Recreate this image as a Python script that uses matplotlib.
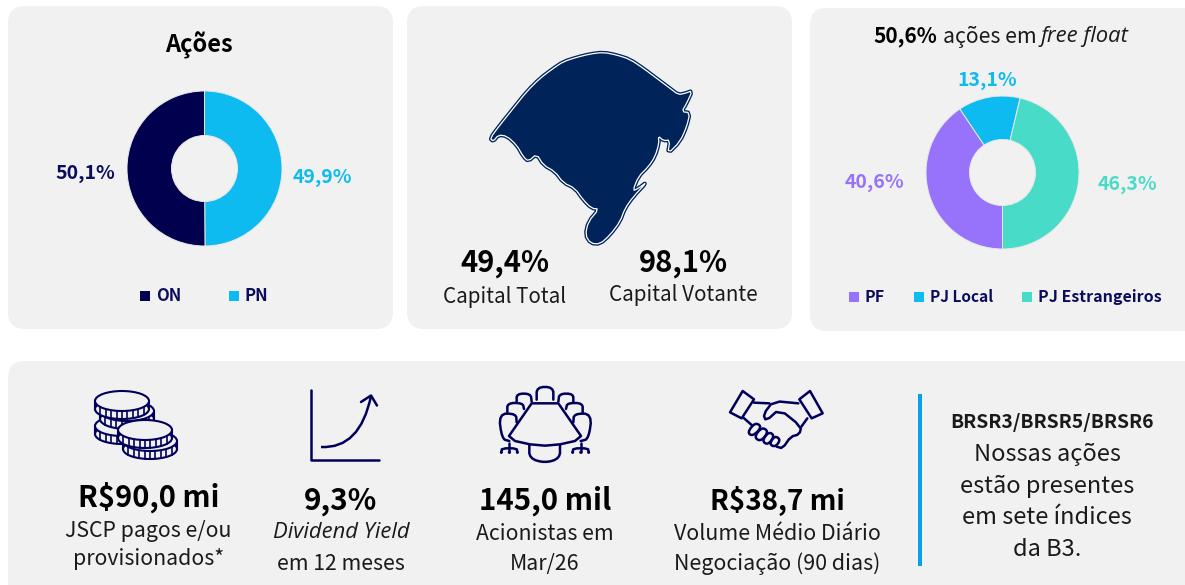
import matplotlib
matplotlib.use("Agg")
import matplotlib.pyplot as plt
from matplotlib.patches import FancyBboxPatch, Rectangle, Ellipse, Polygon, PathPatch, Circle
from matplotlib.path import Path

W, H = 1185, 585

# Data
acoes_labels = ["PN", "ON"]
acoes_values = [49.9, 50.1]
free_float_labels = ["PF", "PJ Local", "PJ Estrangeiros"]
free_float_values = [40.6, 13.1, 46.3]
capital_total = 49.4
capital_votante = 98.1
free_float_pct = 50.6
kpi_values = ["R$90,0 mi", "9,3%", "145,0 mil", "R$38,7 mi"]

# Colours
PANEL = "#f1f1f1"
NAVY = "#00004f"
NAVY_TXT = "#0c0c5c"
CYAN = "#0dbbf0"
PURPLE = "#9773fb"
TEAL = "#48dbc8"
MAP = "#00235a"
LINE = "#00005a"
DARK = "#1a1a1a"

SANS = ["Noto Sans CJK SC", "DejaVu Sans"]
plt.rcParams["font.family"] = SANS


def pct(v):
    return f"{v:.1f}%".replace(".", ",")


fig = plt.figure(figsize=(W / 100, H / 100), dpi=100, facecolor="white")
ax = fig.add_axes([0, 0, 1, 1])
ax.set_xlim(0, W)
ax.set_ylim(H, 0)
ax.axis("off")


def panel(x0, y0, x1, y1, r=17):
    ax.add_patch(FancyBboxPatch((x0 + r, y0 + r), x1 - x0 - 2 * r, y1 - y0 - 2 * r,
                                boxstyle=f"round,pad={r},rounding_size={r}",
                                fc=PANEL, ec="none", zorder=0))


def txt(x, y, s, size, color="black", weight="normal", ha="center", **kw):
    return ax.text(x, y, s, fontsize=size, color=color, fontweight=weight, ha=ha,
                   va="center", zorder=5, **kw)


def donut(cx, cy, r, inner, values, colors, start):
    a = fig.add_axes([(cx - r) / W, 1 - (cy + r) / H, 2 * r / W, 2 * r / H])
    a.pie(values, colors=colors, startangle=start, counterclock=False, radius=1,
          wedgeprops=dict(width=1 - inner / r, edgecolor="#e8e8e8", linewidth=0.7))
    a.set_xlim(-1, 1)
    a.set_ylim(-1, 1)
    return a


def legend_item(x, y, color, label, tx, size=11.5):
    ax.add_patch(Rectangle((x, y - 5), 10, 10, fc=color, ec="none", zorder=4))
    txt(tx, y, label, size, NAVY_TXT, "bold", ha="left")


# corner cutting, rounds off the hand traced outlines
def smooth(pts, closed=False, rounds=2):
    for _ in range(rounds):
        out = [pts[0]] if not closed else []
        n = len(pts)
        for i in range(n if closed else n - 1):
            p, q = pts[i], pts[(i + 1) % n]
            out.append((0.75 * p[0] + 0.25 * q[0], 0.75 * p[1] + 0.25 * q[1]))
            out.append((0.25 * p[0] + 0.75 * q[0], 0.25 * p[1] + 0.75 * q[1]))
        if not closed:
            out.append(pts[-1])
        pts = out
    return pts


panel(8, 6, 393, 329)
panel(407, 6, 792, 329)
panel(810, 8, 1210, 331)
panel(8, 361, 1210, 610)

# Acoes panel
txt(198.5, 45.5, "Ações", 17, "black", "bold")
donut(204.5, 168.5, 77.5, 33, acoes_values, [CYAN, NAVY], 90)
txt(85.5, 173.5, pct(acoes_values[1]), 14, NAVY_TXT, "bold")
txt(322.5, 177.5, pct(acoes_values[0]), 14, CYAN, "bold")
legend_item(140, 296, NAVY, acoes_labels[1], 156, 12)
legend_item(229, 296, CYAN, acoes_labels[0], 245, 12)

# Map of the state (zoomed coordinates)
map_outline = [(270, 415), (300, 375), (340, 325), (380, 275), (420, 235), (460, 205), (490, 185),
               (530, 172), (570, 162), (610, 157), (650, 165), (690, 178), (730, 205), (770, 235),
               (810, 265), (835, 284), (855, 280), (877, 272), (860, 310), (845, 335), (870, 338),
               (860, 380), (840, 425), (803, 462), (810, 420), (790, 422), (775, 408), (777, 430),
               (765, 470), (745, 500), (715, 530), (698, 573), (715, 565), (741, 546), (700, 590),
               (675, 625), (660, 665), (630, 705), (600, 732), (572, 730), (556, 705), (565, 665),
               (597, 627), (575, 625), (550, 600), (525, 565), (490, 548), (465, 515), (430, 495),
               (410, 462), (385, 484), (370, 470), (350, 435), (320, 408), (295, 405), (280, 424)]
map_px = smooth([(400 + x / 3, y / 3) for x, y in map_outline], closed=True, rounds=1)
ax.add_patch(Polygon(map_px, closed=True, fc=MAP, ec=MAP, lw=2.8, joinstyle="round", zorder=2))
ax.add_patch(Polygon(map_px, closed=True, fc="none", ec="white", lw=0.9, joinstyle="round", zorder=3))

txt(505, 263, pct(capital_total), 21, "black", "bold")
txt(683, 263, pct(capital_votante), 21, "black", "bold")
txt(505, 296.5, "Capital Total", 14.8, DARK)
txt(683, 295.5, "Capital Votante", 14.8, DARK)

# Free float panel
txt(873, 36.5, pct(free_float_pct), 15, "black", "bold", ha="left")
txt(943, 36.5, "ações em", 15.3, DARK, ha="left")
txt(1041, 36.5, "free float", 15.8, DARK, ha="left", style="italic", family="Open Sans")
donut(1002.5, 172.5, 76.5, 33, free_float_values, [PURPLE, CYAN, TEAL], 270)
txt(874.5, 182, pct(free_float_values[0]), 14, PURPLE, "bold")
txt(987.5, 80, pct(free_float_values[1]), 14, CYAN, "bold")
txt(1127, 184, pct(free_float_values[2]), 14, TEAL, "bold")
legend_item(849, 297, PURPLE, free_float_labels[0], 864)
legend_item(914, 297, CYAN, free_float_labels[1], 930, 11.1)
legend_item(1022, 297, TEAL, free_float_labels[2], 1038)


# Icons, all in pixel coordinates
def coin(cx, cy):
    rx, ry, h = 27, 10, 8
    ax.add_patch(Rectangle((cx - rx, cy), 2 * rx, h, fc=PANEL, ec="none", zorder=2))
    ax.add_patch(Ellipse((cx, cy + h), 2 * rx, 2 * ry, fc=PANEL, ec=LINE, lw=1.5, zorder=2))
    for i in range(-4, 5):
        xx = cx + i * rx / 5
        yy = ry * (1 - (i / 5) ** 2) ** 0.5
        ax.plot([xx, xx], [cy + yy, cy + h + yy], color=LINE, lw=1.2, zorder=2)
    ax.plot([cx - rx, cx - rx], [cy, cy + h], color=LINE, lw=1.5, zorder=2)
    ax.plot([cx + rx, cx + rx], [cy, cy + h], color=LINE, lw=1.5, zorder=2)
    ax.add_patch(Ellipse((cx, cy), 2 * rx, 2 * ry, fc=PANEL, ec=LINE, lw=1.5, zorder=2))


for c in [(122, 426), (127, 411), (122, 401), (150, 441), (145, 430)]:
    coin(*c)


def draw(pts, lw=1.8, closed=False, rounds=0, z=3):
    if rounds:
        pts = smooth(pts, closed, rounds)
    ax.add_patch(Polygon(pts, closed=closed, fc="none", ec=LINE, lw=lw,
                         joinstyle="round", capstyle="round", zorder=z))


# growth chart
draw([(310.5, 390), (310.5, 459.5), (379, 459.5)])
ax.add_patch(PathPatch(Path([(321, 447), (360, 449), (371, 396)],
                            [Path.MOVETO, Path.CURVE3, Path.CURVE3]),
                       fc="none", ec=LINE, lw=1.8, zorder=3))
draw([(361, 402), (371, 395.5), (377, 405.5)])


def z5(pts):
    return [(480 + x / 3, 375 + y / 3) for x, y in pts]


# boardroom table
draw(z5([(155, 85), (235, 85), (303, 183), (285, 198), (240, 208), (195, 212), (150, 208),
         (105, 198), (87, 183)]), closed=True)
draw(z5([(148, 210), (148, 250), (195, 264), (240, 250), (240, 210)]), rounds=2)
draw(z5([(170, 74), (170, 36), (220, 36), (220, 74)]), rounds=2)
draw(z5([(110, 82), (110, 56), (152, 56), (155, 80)]), rounds=2)
draw(z5([(280, 82), (280, 56), (238, 56), (235, 80)]), rounds=2)
draw(z5([(82, 112), (82, 84), (128, 84), (132, 102)]), rounds=2)
draw(z5([(308, 112), (308, 84), (262, 84), (258, 102)]), rounds=2)
draw(z5([(110, 142), (108, 116), (56, 116), (66, 192), (88, 198)]), rounds=2)
draw(z5([(280, 142), (282, 116), (336, 116), (326, 192), (302, 198)]), rounds=2)
for x0 in [88, 302]:
    draw(z5([(x0, 205), (x0, 232)]))
    draw(z5([(x0 - 24, 232), (x0 - 22, 220), (x0 + 22, 220), (x0 + 24, 232)]), rounds=1)
    for dx in [-24, 0, 24]:
        px, py = z5([(x0 + dx, 232)])[0]
        ax.add_patch(Circle((px, py), 1.5, fc=LINE, ec="none", zorder=3))

# handshake
draw(z5([(788, 48), (822, 73), (785, 130), (750, 112)]), closed=True)
draw(z5([(990, 48), (958, 73), (995, 130), (1028, 115)]), closed=True)
draw(z5([(822, 83), (868, 85)]))
draw(z5([(955, 85), (880, 78), (850, 118), (858, 138), (898, 102), (964, 155), (958, 178), (932, 185),
         (908, 220), (890, 215)]), rounds=1)
draw(z5([(790, 128), (815, 150)]))
draw(z5([(964, 155), (982, 130)]))
for p in [[(826, 142), (802, 172), (818, 184), (846, 156)],
          [(846, 156), (822, 186), (842, 200), (866, 170)],
          [(866, 170), (846, 198), (864, 210), (884, 182)],
          [(884, 182), (868, 208), (886, 216), (902, 194)]]:
    draw(z5(p), closed=True, rounds=2)

# KPI row
txt(148.5, 497.5, kpi_values[0], 21, "black", "bold")
txt(148.5, 531.5, "JSCP pagos e/ou", 15.3, DARK)
txt(148.5, 559.5, "provisionados*", 15.3, DARK)
txt(341, 500.5, kpi_values[1], 21.4, "black", "bold")
txt(341, 533, "Dividend Yield", 15.8, DARK, style="italic", family="Open Sans")
txt(341, 563.5, "em 12 meses", 15.3, DARK)
txt(545, 500.5, kpi_values[2], 21.2, "black", "bold")
txt(545, 533.5, "Acionistas em", 15.3, DARK)
txt(545, 563.5, "Mar/26", 15.3, DARK)
txt(777.5, 500.5, kpi_values[3], 20, "black", "bold")
txt(777, 533.5, "Volume Médio Diário", 15.4, DARK)
txt(777, 563.5, "Negociação (90 dias)", 15.4, DARK)

ax.add_patch(Rectangle((917.5, 394), 4, 172, fc="#0a9eef", ec="none", zorder=4))
txt(1052.5, 422, "BRSR3/BRSR5/BRSR6", 13.9, DARK, "bold")
for yy, s in zip([454, 486, 517, 549],
                 ["Nossas ações", "estão presentes", "em sete índices", "da B3."]):
    txt(1047, yy, s, 17, DARK)

fig.savefig("out.png", dpi=100, facecolor="white")
